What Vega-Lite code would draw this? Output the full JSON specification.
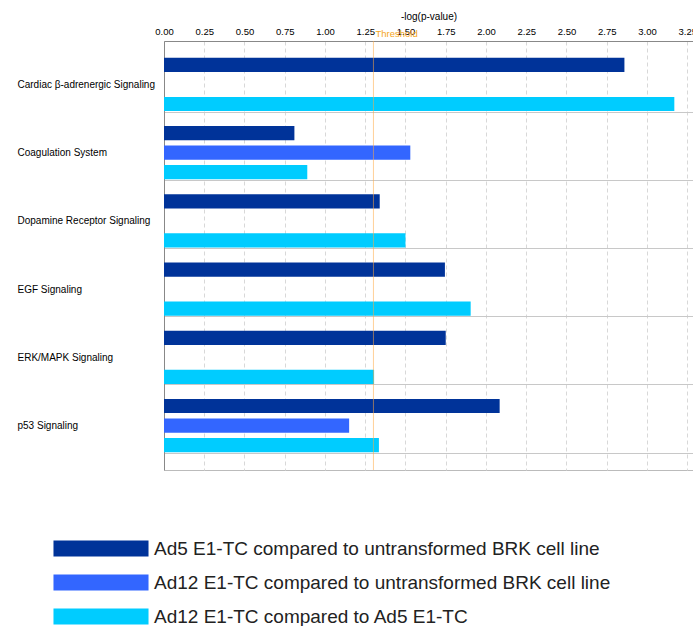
{
  "$schema": "https://vega.github.io/schema/vega-lite/v6.json",
  "autosize": {"type": "none"},
  "padding": {"left": 164, "top": 41, "right": 0, "bottom": 156},
  "width": 529,
  "height": 429,
  "background": "white",
  "config": {
    "font": "Liberation Sans",
    "view": {"stroke": "#bbbbbb", "strokeWidth": 1}
  },
  "datasets": {
    "bars": [
      {"pathway": "Cardiac β-adrenergic Signaling", "series": "Ad5 E1-TC compared to untransformed BRK cell line", "value": 2.86},
      {"pathway": "Cardiac β-adrenergic Signaling", "series": "Ad12 E1-TC compared to Ad5 E1-TC", "value": 3.17},
      {"pathway": "Coagulation System", "series": "Ad5 E1-TC compared to untransformed BRK cell line", "value": 0.81},
      {"pathway": "Coagulation System", "series": "Ad12 E1-TC compared to untransformed BRK cell line", "value": 1.53},
      {"pathway": "Coagulation System", "series": "Ad12 E1-TC compared to Ad5 E1-TC", "value": 0.89},
      {"pathway": "Dopamine Receptor Signaling", "series": "Ad5 E1-TC compared to untransformed BRK cell line", "value": 1.34},
      {"pathway": "Dopamine Receptor Signaling", "series": "Ad12 E1-TC compared to Ad5 E1-TC", "value": 1.5},
      {"pathway": "EGF Signaling", "series": "Ad5 E1-TC compared to untransformed BRK cell line", "value": 1.745},
      {"pathway": "EGF Signaling", "series": "Ad12 E1-TC compared to Ad5 E1-TC", "value": 1.905},
      {"pathway": "ERK/MAPK Signaling", "series": "Ad5 E1-TC compared to untransformed BRK cell line", "value": 1.75},
      {"pathway": "ERK/MAPK Signaling", "series": "Ad12 E1-TC compared to Ad5 E1-TC", "value": 1.305},
      {"pathway": "p53 Signaling", "series": "Ad5 E1-TC compared to untransformed BRK cell line", "value": 2.085},
      {"pathway": "p53 Signaling", "series": "Ad12 E1-TC compared to untransformed BRK cell line", "value": 1.15},
      {"pathway": "p53 Signaling", "series": "Ad12 E1-TC compared to Ad5 E1-TC", "value": 1.335}
    ],
    "threshold": [
      {"value": 1.301, "label": "Threshold"}
    ]
  },
  "layer": [
    {
      "data": {"name": "bars"},
      "mark": {"type": "bar"},
      "encoding": {
        "y": {
          "field": "pathway",
          "type": "nominal",
          "sort": ["Cardiac β-adrenergic Signaling", "Coagulation System", "Dopamine Receptor Signaling", "EGF Signaling", "ERK/MAPK Signaling", "p53 Signaling"],
          "scale": {"paddingInner": 0, "paddingOuter": 0.145, "align": 0.15},
          "axis": {
            "title": null,
            "orient": "left",
            "ticks": false,
            "tickSize": 0,
            "domain": true,
            "domainColor": "#888888",
            "labelAlign": "left",
            "labelPadding": 147,
            "labelOffset": 7,
            "labelFont": "Liberation Sans",
            "labelFontSize": 10,
            "labelColor": "#000000",
            "grid": true,
            "bandPosition": 1,
            "gridColor": "#c8c8c8",
            "gridWidth": 1.2
          }
        },
        "yOffset": {
          "field": "series",
          "type": "nominal",
          "sort": ["Ad5 E1-TC compared to untransformed BRK cell line", "Ad12 E1-TC compared to untransformed BRK cell line", "Ad12 E1-TC compared to Ad5 E1-TC"],
          "scale": {"paddingInner": 0.27, "paddingOuter": 0.383, "align": 0.93}
        },
        "x": {
          "field": "value",
          "type": "quantitative",
          "scale": {"domain": [0, 3.286], "nice": false, "zero": true},
          "axis": {
            "title": "-log(p-value)",
            "orient": "top",
            "values": [0, 0.25, 0.5, 0.75, 1, 1.25, 1.5, 1.75, 2, 2.25, 2.5, 2.75, 3, 3.25],
            "format": ".2f",
            "ticks": false,
            "tickSize": 0,
            "labelPadding": 5,
            "labelFont": "Liberation Sans",
            "labelFontSize": 9.5,
            "labelColor": "#000000",
            "labelFlush": false,
            "labelOverlap": false,
            "titleFont": "Liberation Sans",
            "titleFontSize": 10,
            "titleFontWeight": "normal",
            "titleColor": "#000000",
            "titlePadding": 5,
            "domainColor": "#888888",
            "domainWidth": 1.2,
            "grid": true,
            "gridColor": "#d8d8d8",
            "gridDash": [4, 3]
          }
        },
        "color": {
          "field": "series",
          "type": "nominal",
          "sort": ["Ad5 E1-TC compared to untransformed BRK cell line", "Ad12 E1-TC compared to untransformed BRK cell line", "Ad12 E1-TC compared to Ad5 E1-TC"],
          "scale": {"range": ["#003399", "#3366ff", "#00ccff"]},
          "legend": {
            "title": null,
            "orient": "none",
            "legendX": -72.5,
            "legendY": 498,
            "padding": 0,
            "symbolType": "M-5.94,-1H5.94V1H-5.94Z",
            "symbolSize": 256,
            "symbolStrokeWidth": 0,
            "symbolOpacity": 1,
            "labelOffset": 43.5,
            "labelFont": "Liberation Sans",
            "labelFontSize": 19,
            "labelColor": "#222222",
            "labelLimit": 600,
            "rowPadding": 14,
            "encode": {
              "symbols": {
                "update": {
                  "fill": [
                    {"test": "datum.value === 'Ad5 E1-TC compared to untransformed BRK cell line'", "value": "#000080"},
                    {"scale": "color", "field": "value"}
                  ]
                }
              }
            }
          }
        }
      }
    },
    {
      "data": {"name": "threshold"},
      "mark": {"type": "rule", "color": "#ffaa44", "opacity": 0.55, "strokeWidth": 1},
      "encoding": {
        "x": {"field": "value", "type": "quantitative"}
      }
    },
    {
      "data": {"name": "threshold"},
      "mark": {"type": "text", "align": "left", "baseline": "bottom", "dx": 2, "dy": -2, "y": 0, "color": "#f5a623", "font": "Liberation Sans", "fontSize": 9.5},
      "encoding": {
        "x": {"field": "value", "type": "quantitative"},
        "text": {"field": "label", "type": "nominal"}
      }
    }
  ]
}
